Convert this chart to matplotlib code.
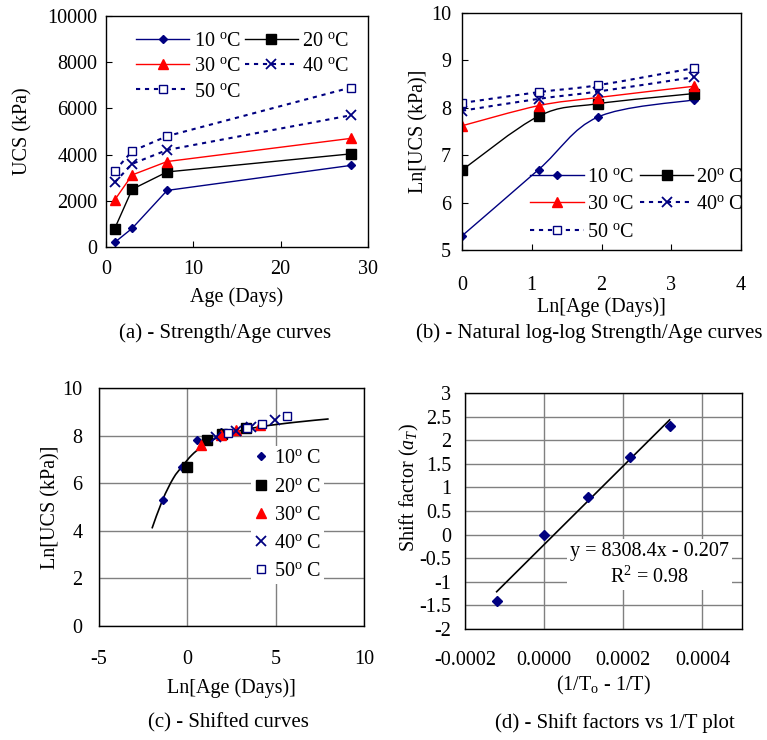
import matplotlib
matplotlib.use("Agg")
import matplotlib.pyplot as plt
import numpy as np
from matplotlib.lines import Line2D
from matplotlib.path import Path
from matplotlib.patches import PathPatch
from matplotlib.ticker import FuncFormatter, FormatStrFormatter

plt.rcParams.update({
    "font.family": "Liberation Serif",
    "mathtext.fontset": "custom",
    "mathtext.rm": "Liberation Serif",
    "mathtext.it": "Liberation Serif:italic",
    "font.size": 14.5,
    "axes.unicode_minus": False,
    "axes.linewidth": 1.0,
})

# --- data ---
age_days = [1, 3, 7, 28]
ucs_10 = [200, 810, 2450, 3530]
ucs_20 = [800, 2500, 3250, 4030]
ucs_30 = [2040, 3120, 3700, 4700]
ucs_40 = [2800, 3600, 4200, 5700]
ucs_50 = [3300, 4150, 4800, 6900]

# shift factors a_T vs (1/To - 1/T)
inv_temp_diff = [-0.00012, 0.0, 0.000112, 0.000218, 0.000317]
shift_factor = [-1.4, 0.0, 0.8, 1.65, 2.3]
trend_x = [-0.00012, 0.000317]
trend_y = [-1.21, 2.43]

# master curve in panel (c)
master_x = [-2.0, -1.4, -0.8, -0.28, 0.25, 0.8, 1.6, 2.7, 4.2, 6.1, 8.0]
master_y = [4.1, 5.3, 6.2, 6.72, 7.18, 7.52, 7.88, 8.15, 8.38, 8.56, 8.70]

NAVY = "#000080"
RED = "#FF0000"
DOT = (0, (2, 2.3))

ucs_all = [ucs_10, ucs_20, ucs_30, ucs_40, ucs_50]
styles = [
    dict(color=NAVY, marker="D", ms=4.5, mfc=NAVY, ls="-", lw=1.0),
    dict(color="black", marker="s", ms=6.5, mfc="black", ls="-", lw=1.0),
    dict(color=RED, marker="^", ms=7, mfc=RED, ls="-", lw=1.0),
    dict(color=NAVY, marker="x", ms=7, mfc=NAVY, mew=1.3, ls=DOT, lw=1.5),
    dict(color=NAVY, marker="s", ms=6, mfc="white", mew=1.0, ls=DOT, lw=1.5),
]
labels_a = ["10 $^{\\rm o}$C", "20 $^{\\rm o}$C", "30 $^{\\rm o}$C",
            "40 $^{\\rm o}$C", "50 $^{\\rm o}$C"]
labels_b = ["10 $^{\\rm o}$C", "20$^{\\rm o}$ C", "30 $^{\\rm o}$C",
            "40$^{\\rm o}$ C", "50 $^{\\rm o}$C"]
labels_c = ["10$^{\\rm o}$ C", "20$^{\\rm o}$ C", "30$^{\\rm o}$ C",
            "40$^{\\rm o}$ C", "50$^{\\rm o}$ C"]


def smooth_path(x, y):
    """Excel-like smoothed line through the points (cubic Bezier)."""
    pts = np.column_stack([x, y]).astype(float)
    n = len(pts)
    verts = [pts[0]]
    codes = [Path.MOVETO]
    for i in range(n - 1):
        p0 = pts[max(i - 1, 0)]
        p1, p2 = pts[i], pts[i + 1]
        p3 = pts[min(i + 2, n - 1)]
        verts += [p1 + (p2 - p0) / 6, p2 - (p3 - p1) / 6, p2]
        codes += [Path.CURVE4] * 3
    return Path(verts, codes)


def handle(st, line=True):
    kw = dict(st)
    if not line:
        kw["ls"] = "none"
    return Line2D([], [], **kw)


W, H = 767, 740
fig = plt.figure(figsize=(W / 100, H / 100), dpi=100)


def axes_px(left, top, right, bottom):
    return fig.add_axes([left / W, 1 - bottom / H, (right - left) / W,
                         (bottom - top) / H])


# ---------- (a) ----------
ax = axes_px(106, 16, 368, 247)
for ucs, st, lab in zip(ucs_all, styles, labels_a):
    ax.plot(age_days, ucs, label=lab, **st)
ax.set_xlim(0, 30)
ax.set_ylim(0, 10000)
ax.set_xticks([0, 10, 20, 30])
ax.set_yticks(np.arange(0, 10001, 2000))
ax.tick_params(direction="in", length=4, top=False, right=False)
ax.tick_params(axis="x", pad=9)
ax.tick_params(axis="y", pad=6)
ax.set_xlabel("Age (Days)", labelpad=6)
ax.set_ylabel("UCS (kPa)")
ax.yaxis.set_label_coords(-0.28, 0.5)
h, l = ax.get_legend_handles_labels()
order = [0, 2, 4, 1, 3]
ax.legend([h[i] for i in order], [l[i] for i in order], ncol=2,
          loc="upper left", bbox_to_anchor=(0.115, 0.93), frameon=False,
          handlelength=2.65, handletextpad=0.2, columnspacing=0.2,
          labelspacing=0.3, borderpad=0, borderaxespad=0)

# ---------- (b) ----------
ax = axes_px(462, 13, 741, 250)
ln_age = np.log(age_days)
for ucs, st in zip(ucs_all, styles):
    ln_ucs = np.log(ucs)
    ax.add_patch(PathPatch(smooth_path(ln_age, ln_ucs), fill=False,
                           edgecolor=st["color"], lw=st["lw"],
                           linestyle=st["ls"]))
    ax.plot(ln_age, ln_ucs, **dict(st, ls="none"))
ax.set_xlim(0, 4)
ax.set_ylim(5, 10)
ax.set_xticks([0, 1, 2, 3, 4])
ax.set_yticks([5, 6, 7, 8, 9, 10])
ax.tick_params(direction="in", length=4)
ax.tick_params(axis="x", pad=19)
ax.tick_params(axis="y", pad=8)
ax.set_xlabel("Ln[Age (Days)]", labelpad=1)
ax.set_ylabel("Ln[UCS (kPa)]")
ax.yaxis.set_label_coords(-0.12, 0.5)
hb = [handle(st) for st in styles]
ax.legend([hb[i] for i in order], [labels_b[i] for i in order], ncol=2,
          loc="upper left", bbox_to_anchor=(0.245, 0.345), frameon=False,
          handlelength=2.65, handletextpad=0.15, columnspacing=0.3,
          labelspacing=0.4, borderpad=0, borderaxespad=0)

# ---------- (c) ----------
ax = axes_px(99, 388, 364, 626)
ax.add_patch(PathPatch(smooth_path(master_x, master_y), fill=False,
                       edgecolor="black", lw=1.2, zorder=2))
for ucs, st, a_t in zip(ucs_all, styles, shift_factor):
    ax.plot(ln_age + a_t, np.log(ucs), zorder=3, **dict(st, ls="none"))
ax.set_xlim(-5, 10)
ax.set_ylim(0, 10)
ax.set_xticks([-5, 0, 5, 10])
ax.set_yticks(np.arange(0, 11, 2))
ax.grid(True, color="#808080", lw=1.0)
ax.set_axisbelow(True)
ax.tick_params(length=0)
ax.tick_params(axis="x", pad=17)
ax.tick_params(axis="y", pad=12)
ax.set_xlabel("Ln[Age (Days)]", labelpad=7)
ax.set_ylabel("Ln[UCS (kPa)]")
ax.yaxis.set_label_coords(-0.145, 0.5)
ax.legend([handle(st, line=False) for st in styles], labels_c,
          loc="upper left", bbox_to_anchor=(0.575, 0.755),
          frameon=True, facecolor="white", edgecolor="none",
          framealpha=1, fancybox=False, handlelength=0.7,
          handletextpad=0.25, labelspacing=0.45, borderpad=0.15,
          borderaxespad=0)

# ---------- (d) ----------
ax = axes_px(465, 393, 742, 629)
ax.plot(trend_x, trend_y, color="black", lw=1.2, zorder=2)
ax.plot(inv_temp_diff, shift_factor, ls="none", marker="D", ms=5,
        color=NAVY, zorder=3)
ax.set_xlim(-0.0002, 0.0005)
ax.set_ylim(-2, 3)
ax.set_xticks([-0.0002, 0.0, 0.0002, 0.0004])
ax.set_yticks(np.arange(-2, 3.01, 0.5))
ax.xaxis.set_major_formatter(FormatStrFormatter("%.4f"))
ax.yaxis.set_major_formatter(FuncFormatter(lambda v, p: f"{v:g}"))
ax.grid(True, color="#808080", lw=1.0)
ax.set_axisbelow(True)
ax.tick_params(length=0)
ax.tick_params(axis="x", pad=16)
ax.tick_params(axis="y", pad=10)
ax.set_xlabel("(1/T$_{\\rm o}$ - 1/T)", labelpad=3)
ax.set_ylabel("Shift factor ($a_T$)")
ax.yaxis.set_label_coords(-0.158, 0.6)
ax.text(0.000267, -0.64, "y = 8308.4x - 0.207\nR$^2$ = 0.98", ha="center",
        va="center", linespacing=1.3, zorder=4,
        bbox=dict(facecolor="white", edgecolor="none", pad=2))

# ---------- captions ----------
fig.text(225 / W, 1 - 333 / H, "(a) - Strength/Age curves", ha="center",
         va="center", fontsize=15)
fig.text(589 / W, 1 - 333 / H, "(b) - Natural log-log Strength/Age curves",
         ha="center", va="center", fontsize=15)
fig.text(228 / W, 1 - 723 / H, "(c) - Shifted curves", ha="center",
         va="center", fontsize=15)
fig.text(615 / W, 1 - 723 / H, "(d) - Shift factors vs 1/T plot",
         ha="center", va="center", fontsize=15)

fig.savefig("out.png", dpi=100)
